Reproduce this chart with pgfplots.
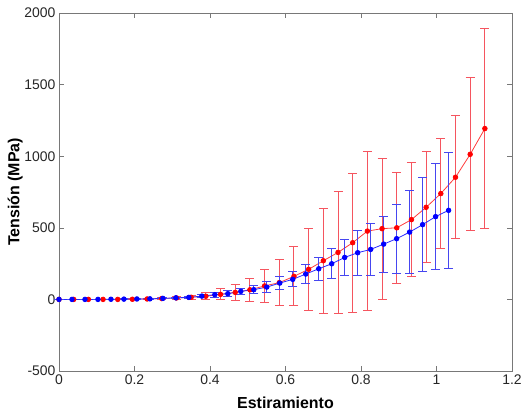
\documentclass[border=0pt]{standalone}
\usepackage{fontspec}
\setmainfont{Liberation Sans}
\usepackage{pgfplots}
\pgfplotsset{compat=1.18}
\usepackage{pgfplotstable}
\usetikzlibrary{calc}

\definecolor{axgray}{RGB}{120,120,120}
\definecolor{redln}{RGB}{255,60,60}
\definecolor{redbar}{RGB}{245,85,95}
\definecolor{blueln}{RGB}{40,40,255}
\definecolor{bluebar}{RGB}{70,70,240}

% x  y  err
\pgfplotstableread{
x       y     e
0       0     0
0.0389  0     0
0.0778  0     0
0.1167  0     0
0.1556  0     1
0.1945  1     2
0.2334  3     4
0.2723  6     6
0.3112  10    8
0.3501  15    15
0.3890  22    25
0.4279  35    38
0.4668  49    56
0.5057  67    82
0.5446  94    113
0.5835  117   161
0.6224  161   207
0.6613  210   288
0.7002  270   368
0.7391  328   425
0.7780  396   484
0.8169  477   555
0.8558  494   493
0.8947  500   388
0.9336  557   398
0.9725  643   388
1.0114  739   383
1.0503  853   431
1.0892  1013  535
1.1281  1193  697
}\redtab

\pgfplotstableread{
x       y     e
0       0     0
0.0344  0     0
0.0688  0     0
0.1032  0     0
0.1376  1     1
0.1720  2     1
0.2064  3     2
0.2408  4     3
0.2752  7     4
0.3096  11    5
0.3440  14    8
0.3784  23    10
0.4128  33    17
0.4472  40    21
0.4816  56    22
0.5160  68    30
0.5504  86    38
0.5848  114   44
0.6192  140   52
0.6536  177   65
0.6880  214   82
0.7224  249   104
0.7568  293   126
0.7912  326   158
0.8256  349   180
0.8600  386   195
0.8944  424   242
0.9288  470   290
0.9632  522   327
0.9976  578   370
1.0320  622   404
}\bluetab

\begin{document}
\begin{tikzpicture}
\begin{axis}[
  width=453bp, height=358bp, scale only axis,
  xmin=0, xmax=1.2, ymin=-500, ymax=2000,
  xtick={0,0.2,...,1.2}, ytick={-500,0,...,2000},
  /pgf/number format/assume math mode=true,
  xticklabel style={/pgf/number format/fixed},
  yticklabel style={/pgf/number format/fixed, /pgf/number format/1000 sep={}},
  tick label style={font=\fontsize{14}{16}\selectfont, text=black!85},
  axis line style={axgray},
  tick style={axgray, thin},
  tick align=inside,
  major tick length=5bp,
  xlabel={Estiramiento},
  ylabel={Tensión (MPa)},
  every axis x label/.style={at={(axis description cs:0.5,-0.088)}, anchor=center,
    font=\fontsize{16}{18}\selectfont\bfseries},
  every axis y label/.style={at={(axis description cs:-0.097,0.5)}, anchor=center, rotate=90,
    font=\fontsize{16}{18}\selectfont\bfseries},
  clip=false,
]
\addplot[redln, line width=0.8pt, mark=*, mark size=2.3bp,
  mark options={fill=red, draw=red},
  error bars/.cd, y dir=both, y explicit,
  error bar style={redbar, line width=1pt},
  error mark options={rotate=90, mark size=4.5bp, redbar, line width=1pt}]
  table[x=x, y=y, y error=e] {\redtab};
\addplot[blueln, line width=0.8pt, mark=*, mark size=2.3bp,
  mark options={fill=blue, draw=blue},
  error bars/.cd, y dir=both, y explicit,
  error bar style={bluebar, line width=1pt},
  error mark options={rotate=90, mark size=4.5bp, bluebar, line width=1pt}]
  table[x=x, y=y, y error=e] {\bluetab};
\end{axis}
\pgfresetboundingbox
\path[use as bounding box] ($(current axis.south west)+(-59bp,-43bp)$) rectangle ($(current axis.north east)+(10bp,13bp)$);
\end{tikzpicture}
\end{document}
